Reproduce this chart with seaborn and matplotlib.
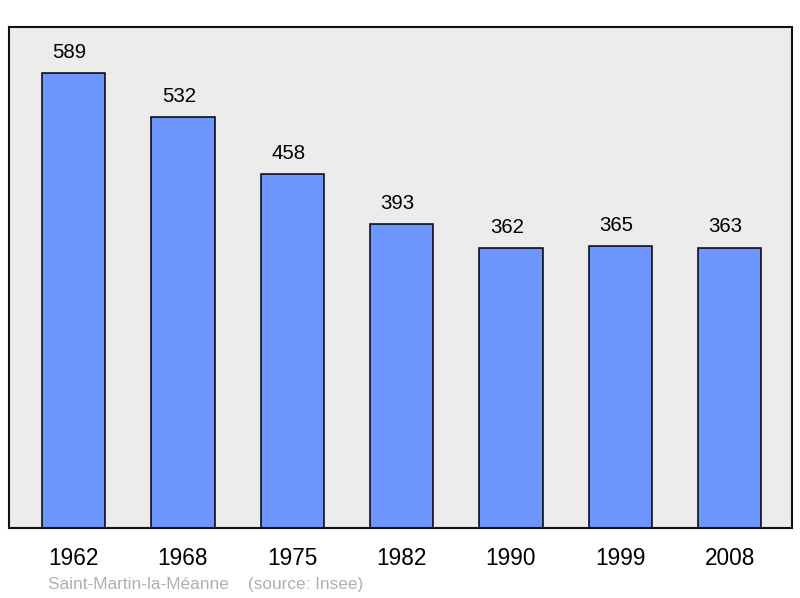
import matplotlib
matplotlib.use('Agg')
import matplotlib.pyplot as plt
import pandas as pd
import seaborn as sns

years = ['1962', '1968', '1975', '1982', '1990', '1999', '2008']
population = [589, 532, 458, 393, 362, 365, 363]
town = 'Saint-Martin-la-Méanne'
source = '(source: Insee)'

sns.set_style('white')
plt.rcParams['font.family'] = ['Liberation Sans', 'DejaVu Sans']

df = pd.DataFrame({'year': years, 'pop': population})

fig = plt.figure(figsize=(8, 5.98), dpi=100)
ax = fig.add_axes([8.5 / 800, 1 - 528 / 598, 783.5 / 800, 501 / 598])
ax.set_facecolor('#ececec')

sns.barplot(data=df, x='year', y='pop', color='#6f96ff', saturation=1,
            width=0.58, edgecolor='black', linewidth=1.1, ax=ax)

# value labels above the bars (sit a little left of centre in the original)
for i, v in enumerate(population):
    ax.text(i - 0.037, v + 19.5, str(v), ha='center', va='baseline',
            fontsize=14.7, color='black')

ax.set_xlim(-0.595, 6.57)
ax.set_ylim(0, 648.5)
ax.set_yticks([])
ax.set_xlabel('')
ax.set_ylabel('')
ax.tick_params(axis='x', length=0, labelsize=16.3, pad=14, labelcolor='black')
for s in ax.spines.values():
    s.set_linewidth(1.5)
    s.set_color('#111111')

fig.text(48 / 800, 1 - 584.5 / 598, town + '    ' + source, color='#b0b0b0',
         fontsize=12.4, va='center', ha='left')

fig.savefig('out.png', dpi=100)
